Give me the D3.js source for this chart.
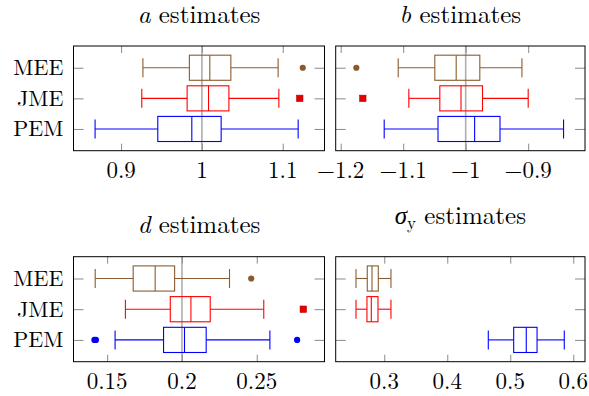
<!DOCTYPE html>
<html><head><meta charset="utf-8">
<script src="https://cdn.jsdelivr.net/npm/d3@7"></script>
<style>body{margin:0;background:#fff}svg{display:block}</style>
</head><body>
<svg id="c" width="589" height="396"></svg>
<script>
// ---- data ----
const methods = ["MEE", "JME", "PEM"];
const methodColors = ["#8a5c2e", "#ff0000", "#0000ff"];
const markerShapes = ["circle", "square", "circle"];

// [low whisker, Q1, median, Q3, high whisker] per method
const aStats = [[0.927, 0.9845, 1.0098, 1.0358, 1.0943], [0.9256, 0.9817, 1.0082, 1.0334, 1.0952], [0.8678, 0.9454, 0.9875, 1.0238, 1.1191]];
const aOutliers = [[1.1248], [1.1211], []];
const bStats = [[-1.108, -1.0494, -1.0152, -0.9774, -0.910], [-1.091, -1.0414, -1.0075, -0.9731, -0.900], [-1.1304, -1.0443, -0.9857, -0.9451, -0.8434]];
const bOutliers = [[-1.175], [-1.1646], []];
const dStats = [[0.142, 0.1674, 0.1821, 0.1951, 0.2318], [0.1622, 0.1922, 0.206, 0.2189, 0.2547], [0.1553, 0.1877, 0.2017, 0.2162, 0.2588]];
const dOutliers = [[0.2463], [0.2811], [0.1415, 0.1425, 0.277]];
const sStats = [[0.2551, 0.273, 0.2805, 0.2905, 0.3106], [0.2551, 0.2725, 0.2794, 0.29, 0.3106], [0.4651, 0.5054, 0.5254, 0.5425, 0.5857]];
const sOutliers = [[], [], []];

const aTicks = [0.9, 1, 1.1];
const bTicks = [-1.2, -1.1, -1, -0.9];
const dTicks = [0.15, 0.2, 0.25];
const sTicks = [0.3, 0.4, 0.5, 0.6];

const aLimits = [0.8411, 1.1517];
const bLimits = [-1.208, -0.8091];
const dLimits = [0.1275, 0.2953];
const sLimits = [0.2229, 0.6186];

const trueValues = [1, -1, 0.2, null];

// ---- drawing ----
const svg = d3.select("#c");
const FONT = "'Latin Modern Roman','Liberation Serif','DejaVu Serif',serif";

const panels = [
  {title: "a", stats: aStats, out: aOutliers, ticks: aTicks, lim: aLimits, truth: trueValues[0], x0: 73.5, x1: 324.5, y0: 46, y1: 150.7, tY: 23, labels: true},
  {title: "b", stats: bStats, out: bOutliers, ticks: bTicks, lim: bLimits, truth: trueValues[1], x0: 335.7, x1: 585, y0: 46, y1: 150.7, tY: 23, labels: false},
  {title: "d", stats: dStats, out: dOutliers, ticks: dTicks, lim: dLimits, truth: trueValues[2], x0: 73.5, x1: 324.5, y0: 256.7, y1: 361.7, tY: 233, labels: true},
  {title: "σ", stats: sStats, out: sOutliers, ticks: sTicks, lim: sLimits, truth: trueValues[3], x0: 335.7, x1: 585, y0: 256.7, y1: 361.7, tY: 224, labels: false, sub: "y"}
];

const fmt = d3.format("~g");

panels.forEach(p => {
  const g = svg.append("g");
  const x = d3.scaleLinear().domain(p.lim).range([p.x0, p.x1]);
  const y = d3.scaleLinear().domain([0.29, 3.71]).range([p.y1, p.y0]);
  const rowPos = i => y(3 - i);
  const step = Math.abs(y(1) - y(2));
  const boxH = step * 0.82, capH = step * 0.62;

  const grey = s => { s.select(".domain").remove(); s.selectAll("line").attr("stroke", "#8a8a8a"); };
  g.append("g").attr("transform", `translate(0,${p.y1})`).call(d3.axisBottom(x).tickValues(p.ticks).tickSize(-7).tickFormat("")).call(grey);
  g.append("g").attr("transform", `translate(0,${p.y0})`).call(d3.axisTop(x).tickValues(p.ticks).tickSize(-7).tickFormat("")).call(grey);
  g.append("g").attr("transform", `translate(${p.x0},0)`).call(d3.axisLeft(y).tickValues([1, 2, 3]).tickSize(-10).tickFormat("")).call(grey);
  g.append("g").attr("transform", `translate(${p.x1},0)`).call(d3.axisRight(y).tickValues([1, 2, 3]).tickSize(-10).tickFormat("")).call(grey);

  // tick labels
  g.selectAll("text.tl").data(p.ticks).join("text")
    .attr("x", d => x(d)).attr("y", p.y1 + 27.5)
    .attr("text-anchor", "middle").attr("font-family", FONT).attr("font-size", 23)
    .text(d => fmt(d));

  // truth line
  if (p.truth !== null) {
    g.append("line").attr("x1", x(p.truth)).attr("x2", x(p.truth)).attr("y1", p.y0).attr("y2", p.y1)
      .attr("stroke", "#999").attr("stroke-opacity", 0.8).attr("stroke-width", 1.6);
  }

  // boxes
  p.stats.forEach((s, i) => {
    const c = methodColors[i], cy = rowPos(i);
    const bg = g.append("g").attr("stroke", c).attr("stroke-width", 1.1).attr("fill", "none");
    bg.append("line").attr("x1", x(s[0])).attr("x2", x(s[1])).attr("y1", cy).attr("y2", cy);
    bg.append("line").attr("x1", x(s[3])).attr("x2", x(s[4])).attr("y1", cy).attr("y2", cy);
    bg.append("line").attr("x1", x(s[0])).attr("x2", x(s[0])).attr("y1", cy - capH / 2).attr("y2", cy + capH / 2);
    bg.append("line").attr("x1", x(s[4])).attr("x2", x(s[4])).attr("y1", cy - capH / 2).attr("y2", cy + capH / 2);
    bg.append("rect").attr("x", x(s[1])).attr("y", cy - boxH / 2).attr("width", x(s[3]) - x(s[1])).attr("height", boxH);
    bg.append("line").attr("x1", x(s[2])).attr("x2", x(s[2])).attr("y1", cy - boxH / 2).attr("y2", cy + boxH / 2);

    p.out[i].forEach(v => {
      if (markerShapes[i] === "square") {
        g.append("rect").attr("x", x(v) - 3.2).attr("y", cy - 3.2).attr("width", 6.4).attr("height", 6.4)
          .attr("fill", "#e00000").attr("stroke", "#c00000").attr("stroke-width", 0.6);
      } else {
        g.append("circle").attr("cx", x(v)).attr("cy", cy).attr("r", 3.1)
          .attr("fill", i === 0 ? "#8b5a2b" : c);
      }
    });
  });

  // frame
  g.append("rect").attr("x", p.x0).attr("y", p.y0).attr("width", p.x1 - p.x0).attr("height", p.y1 - p.y0)
    .attr("fill", "none").attr("stroke", "#000").attr("stroke-width", 1);

  // row labels
  if (p.labels) {
    g.selectAll("text.rl").data(methods).join("text")
      .attr("x", 63.5).attr("y", (d, i) => rowPos(i) + 7.5)
      .attr("text-anchor", "end").attr("font-family", FONT).attr("font-size", 22)
      .text(d => d);
  }

  // title
  const t = g.append("text").attr("x", (p.x0 + p.x1) / 2).attr("y", p.tY)
    .attr("text-anchor", "middle").attr("font-family", FONT).attr("font-size", 25);
  t.append("tspan").attr("font-style", "italic").text(p.title);
  if (p.sub) t.append("tspan").attr("font-size", 17).attr("dy", 5).text(p.sub);
  t.append("tspan").attr("dy", p.sub ? -5 : 0).text(" estimates");
});
</script>
</body></html>
